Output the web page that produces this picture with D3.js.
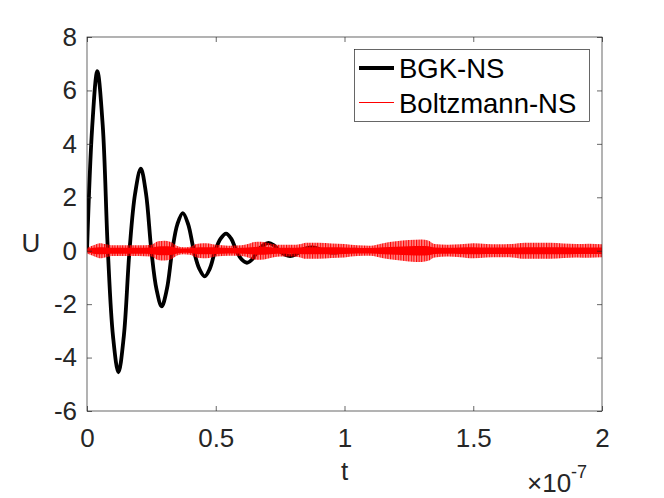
<!DOCTYPE html>
<html>
<head>
<meta charset="utf-8">
<script src="https://cdn.jsdelivr.net/npm/d3@7"></script>
<style>
  html, body { margin: 0; padding: 0; background: #fff; }
  svg { display: block; font-family: "Liberation Sans", Arial, Helvetica, sans-serif; }
</style>
</head>
<body>
<svg id="chart" width="664" height="498"></svg>
<script>
// ---- data (t in units of 1e-7) ----
const xTicks = [0, 0.5, 1, 1.5, 2];
const xTickLabels = ["0", "0.5", "1", "1.5", "2"];
const yTicks = [-6, -4, -2, 0, 2, 4, 6, 8];
const yTickLabels = ["-6", "-4", "-2", "0", "2", "4", "6", "8"];

// BGK-NS: damped oscillation
const bgkT = [0, 0.02, 0.04, 0.061, 0.081, 0.101, 0.122, 0.143, 0.165, 0.187, 0.209, 0.229, 0.25, 0.27, 0.29, 0.31,
  0.331, 0.351, 0.372, 0.393, 0.415, 0.436, 0.457, 0.477, 0.498, 0.519, 0.54, 0.56, 0.58, 0.6, 0.621, 0.642,
  0.663, 0.684, 0.705, 0.726, 0.747, 0.768, 0.789, 0.81, 0.83, 0.851, 0.873, 0.894, 0.915, 0.936, 0.957, 0.978,
  1.0, 1.02, 1.04, 1.06, 1.08, 1.2, 1.4, 1.6, 1.8, 2.0];
const bgkU = [0, 4.6, 6.72, 4.7, 0, -3.2, -4.55, -3.2, 0, 2.15, 3.07, 2.15, 0, -1.45, -2.08, -1.45,
  0, 0.99, 1.41, 0.99, 0, -0.67, -0.96, -0.67, 0, 0.45, 0.64, 0.45, 0, -0.32, -0.45, -0.32,
  0, 0.2, 0.29, 0.2, 0, -0.14, -0.2, -0.14, 0, 0.085, 0.12, 0.085, 0, -0.05, -0.07, -0.05,
  0, 0.03, 0.04, 0.03, 0, 0, 0, 0, 0, 0];

// Boltzmann-NS: fast oscillation, drawn as its envelope (half-width)
const boltzT = [0, 0.025, 0.05, 0.075, 0.1, 0.15, 0.2, 0.25, 0.275, 0.3, 0.325, 0.35, 0.375, 0.4, 0.425, 0.45,
  0.475, 0.5, 0.55, 0.6, 0.625, 0.65, 0.675, 0.7, 0.725, 0.75, 0.8, 0.825, 0.85, 0.9, 0.95, 1.0,
  1.05, 1.1, 1.15, 1.2, 1.25, 1.3, 1.325, 1.35, 1.4, 1.45, 1.5, 1.55, 1.6, 1.65, 1.7, 1.75,
  1.8, 1.85, 1.9, 1.95, 2.0];
const boltzOuter = [0.1, 0.2, 0.28, 0.24, 0.2, 0.2, 0.2, 0.22, 0.35, 0.37, 0.33, 0.18, 0.13, 0.15, 0.25, 0.28,
  0.27, 0.22, 0.19, 0.2, 0.25, 0.33, 0.34, 0.3, 0.24, 0.22, 0.22, 0.24, 0.3, 0.3, 0.27, 0.25,
  0.2, 0.19, 0.28, 0.35, 0.4, 0.42, 0.38, 0.25, 0.22, 0.24, 0.28, 0.25, 0.24, 0.25, 0.3, 0.3,
  0.3, 0.27, 0.25, 0.26, 0.24];
const boltzCore = [0.06, 0.11, 0.13, 0.12, 0.11, 0.11, 0.11, 0.12, 0.16, 0.17, 0.16, 0.1, 0.08, 0.09, 0.12, 0.13,
  0.13, 0.12, 0.1, 0.11, 0.12, 0.14, 0.15, 0.14, 0.12, 0.11, 0.11, 0.12, 0.13, 0.13, 0.13, 0.12,
  0.1, 0.1, 0.13, 0.15, 0.17, 0.18, 0.17, 0.12, 0.11, 0.12, 0.13, 0.12, 0.12, 0.12, 0.13, 0.13,
  0.13, 0.13, 0.12, 0.12, 0.12];

const seriesNames = ["BGK-NS", "Boltzmann-NS"];
const seriesColors = ["#000000", "#ff0000"];

// ---- layout ----
const svg = d3.select("#chart");
const L = 87, R = 602, T = 37, B = 411;
const textColor = "#262626";

const x = d3.scaleLinear().domain([0, 2]).range([L, R]);
const y = d3.scaleLinear().domain([-6, 8]).range([B, T]);

// ---- defs: clip + striation pattern for the fast oscillation band ----
const defs = svg.append("defs");
defs.append("clipPath").attr("id", "clip")
  .append("rect").attr("x", L).attr("y", T).attr("width", R - L).attr("height", B - T);
const pat = defs.append("pattern").attr("id", "stripes").attr("patternUnits", "userSpaceOnUse")
  .attr("width", 2.6).attr("height", 10);
pat.append("rect").attr("width", 2.6).attr("height", 10).attr("fill", seriesColors[1]).attr("fill-opacity", 0.45);
pat.append("rect").attr("width", 1.1).attr("height", 10).attr("fill", seriesColors[1]);

// ---- series ----
const bgk = bgkT.map((t, i) => ({ t, u: bgkU[i] }));
const boltz = boltzT.map((t, i) => ({ t, o: boltzOuter[i], c: boltzCore[i] }));

const plot = svg.append("g").attr("clip-path", "url(#clip)");

plot.append("path")
  .datum(bgk)
  .attr("fill", "none")
  .attr("stroke", seriesColors[0])
  .attr("stroke-width", 3.8)
  .attr("stroke-linejoin", "round")
  .attr("d", d3.line().x(d => x(d.t)).y(d => y(d.u)).curve(d3.curveCatmullRom.alpha(0.5)));

plot.append("path")
  .datum(boltz)
  .attr("fill", "url(#stripes)")
  .attr("d", d3.area().x(d => x(d.t)).y0(d => y(-d.o)).y1(d => y(d.o)).curve(d3.curveMonotoneX));

plot.append("path")
  .datum(boltz)
  .attr("fill", seriesColors[1])
  .attr("d", d3.area().x(d => x(d.t)).y0(d => y(-d.c)).y1(d => y(d.c)).curve(d3.curveMonotoneX));

// ---- axes ----
const fontSize = 26;
const axB = svg.append("g").attr("transform", `translate(0,${B})`)
  .call(d3.axisBottom(x).tickValues(xTicks).tickFormat((d, i) => xTickLabels[i]).tickSize(-5).tickSizeOuter(0).tickPadding(18));
const axT = svg.append("g").attr("transform", `translate(0,${T})`)
  .call(d3.axisTop(x).tickValues(xTicks).tickFormat("").tickSize(-5).tickSizeOuter(0));
const axL = svg.append("g").attr("transform", `translate(${L},0)`)
  .call(d3.axisLeft(y).tickValues(yTicks).tickFormat((d, i) => yTickLabels[i]).tickSize(-5).tickSizeOuter(0).tickPadding(10));
const axR = svg.append("g").attr("transform", `translate(${R},0)`)
  .call(d3.axisRight(y).tickValues(yTicks).tickFormat("").tickSize(-5).tickSizeOuter(0));

[axB, axT, axL, axR].forEach(a => {
  a.select(".domain").remove();
  a.selectAll("line").attr("stroke", textColor).attr("stroke-width", 0.7);
  a.selectAll("text").attr("fill", textColor).attr("font-size", fontSize)
    .attr("font-family", "'Liberation Sans', Arial, sans-serif");
});

svg.append("rect")
  .attr("x", L).attr("y", T).attr("width", R - L).attr("height", B - T)
  .attr("fill", "none").attr("stroke", textColor).attr("stroke-width", 0.7);

// ---- labels ----
svg.append("text").attr("x", (L + R) / 2).attr("y", 480).attr("text-anchor", "middle")
  .attr("font-size", fontSize).attr("fill", textColor).text("t");
svg.append("text").attr("x", 31).attr("y", 252).attr("text-anchor", "middle")
  .attr("font-size", fontSize).attr("fill", textColor).text("U");

const expo = svg.append("text").attr("x", 527).attr("y", 492).attr("font-size", fontSize).attr("fill", textColor);
expo.append("tspan").text("\u00d710");
expo.append("tspan").attr("font-size", 18).attr("dy", -14).text("-7");

// ---- legend ----
const lg = svg.append("g");
lg.append("rect").attr("x", 354.5).attr("y", 49.5).attr("width", 235).attr("height", 72)
  .attr("fill", "#fff").attr("stroke", textColor).attr("stroke-width", 0.7);
const legY = [68, 102.5];
seriesNames.forEach((name, i) => {
  lg.append("line").attr("x1", 359).attr("x2", 394).attr("y1", legY[i]).attr("y2", legY[i])
    .attr("stroke", seriesColors[i]).attr("stroke-width", i === 0 ? 3.8 : 1);
  lg.append("text").attr("x", 399).attr("y", Math.round(legY[i]) + 10).attr("font-size", 27.5)
    .attr("fill", "#000").text(name);
});
</script>
</body>
</html>
